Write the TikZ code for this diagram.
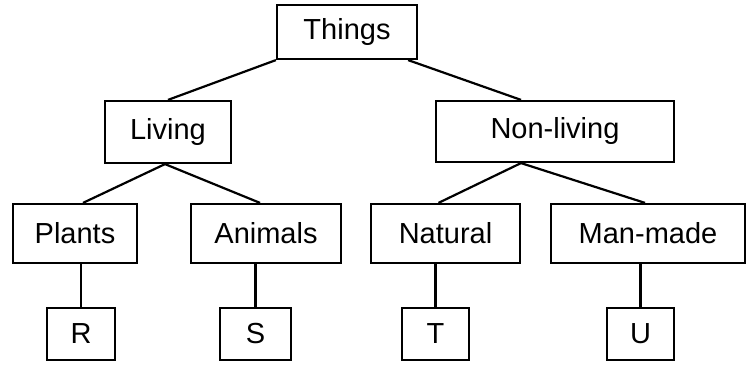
\documentclass[tikz,border=0pt]{standalone}
\usepackage{fontspec}
\setmainfont{Liberation Sans}
\usetikzlibrary{positioning}

\begin{document}
\begin{tikzpicture}[x=0.5pt,y=-0.5pt,line width=1.1pt,
 box/.style={draw,inner sep=0pt,minimum height=29.5pt,font=\fontsize{14.5}{17}\selectfont},
 leaf/.style={box,minimum width=34pt,minimum height=26pt}]
\useasboundingbox (0,0) rectangle (746,367);
\node[box,minimum width=70pt,minimum height=27pt] (things) at (347,32) {Things};
\node[box,minimum width=63pt,minimum height=31pt] (living) at (168,132) {Living};
\node[box,minimum width=119pt,minimum height=30.5pt] (nonliving) at (555,131.5) {Non-living};
\node[box,minimum width=62pt] (plants) at (75,233.5) {Plants};
\node[box,minimum width=75pt] (animals) at (266,233.5) {Animals};
\node[box,minimum width=74.5pt] (natural) at (445.5,233.5) {Natural};
\node[box,minimum width=97pt] (manmade) at (648,233.5) {Man-made};
\node[leaf] (r) at (81,334) {R};
\node[leaf,minimum width=35.5pt] (s) at (255.5,334) {S};
\node[leaf,minimum width=33.5pt] (t) at (435.5,334) {T};
\node[leaf,minimum width=33.5pt] (u) at (640.5,334) {U};
\draw (things.south west)--(living.north);
\draw ([xshift=-5pt]things.south east)--([xshift=-17pt]nonliving.north);
\draw ([xshift=-1.5pt]living.south)--([xshift=4pt]plants.north);
\draw ([xshift=-1.5pt]living.south)--([xshift=-3pt]animals.north);
\draw ([xshift=-17pt]nonliving.south)--([xshift=-3.5pt]natural.north);
\draw ([xshift=-17pt]nonliving.south)--([xshift=-1.5pt]manmade.north);
\draw (r.north)--(r.north |- plants.south);
\draw (s.north)--(s.north |- animals.south);
\draw (t.north)--(t.north |- natural.south);
\draw (u.north)--(u.north |- manmade.south);
\end{tikzpicture}
\end{document}
